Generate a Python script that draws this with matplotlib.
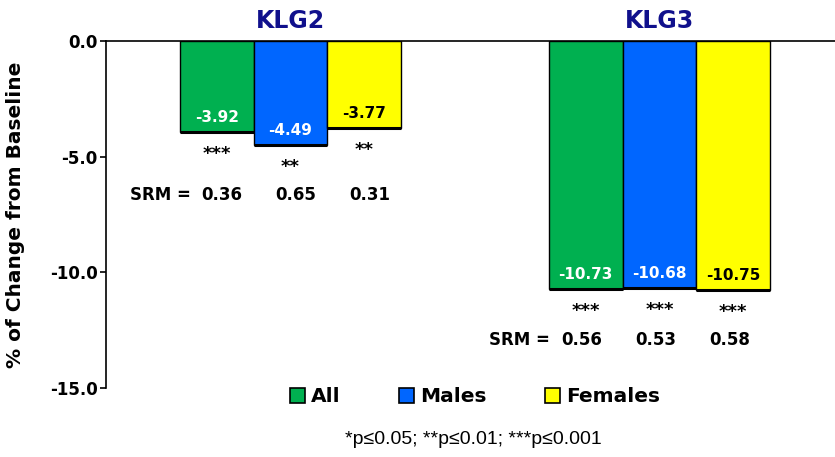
import matplotlib.pyplot as plt
from matplotlib.patches import Patch
import numpy as np

groups = ["KLG2", "KLG3"]
series = ["All", "Males", "Females"]
values = [[-3.92, -4.49, -3.77],      # KLG2
          [-10.73, -10.68, -10.75]]   # KLG3
stars = [["***", "**", "**"],
         ["***", "***", "***"]]
srm = [["0.36", "0.65", "0.31"],
       ["0.56", "0.53", "0.58"]]
colors = ["#00B050", "#0066FF", "#FFFF00"]
label_colors = ["white", "white", "black"]

fig = plt.figure(figsize=(8.35, 4.57), dpi=100)
ax = fig.add_axes([106/835, 1-388/457, 738/835, 347/457])

width = 0.2
x = np.arange(len(groups))
for i, s in enumerate(series):
    vals = [v[i] for v in values]
    pos = x + (i - 1) * width
    ax.bar(pos, vals, width, color=colors[i], edgecolor="black", linewidth=1.0, label=s, zorder=2)
    # darker bottom edge
    for p, v in zip(pos, vals):
        ax.plot([p - width/2, p + width/2], [v, v], color="black", lw=2.2, zorder=3,
                solid_capstyle="butt")
        ax.annotate("%.2f" % v, (p, v), xytext=(0, 10.5), textcoords="offset points",
                    ha="center", va="center", color=label_colors[i], fontsize=11,
                    fontweight="bold", zorder=4)
    for g, (p, v) in enumerate(zip(pos, vals)):
        ax.annotate(stars[g][i], (p, v), xytext=(0, -16), textcoords="offset points",
                    ha="center", va="center", fontsize=13, fontweight="bold")

# SRM rows
srm_y = [-6.66, -12.93]
srm_dx = [0.015, -0.01]
srm_lab_x = [-0.271, -0.296]
for g in range(len(groups)):
    ax.text(x[g] + srm_lab_x[g], srm_y[g], "SRM =", ha="right", va="center",
            fontsize=12, fontweight="bold")
    for i in range(len(series)):
        ax.text(x[g] + (i - 1) * width + srm_dx[g], srm_y[g], srm[g][i], ha="center",
                va="center", fontsize=12, fontweight="bold")

# group titles
for g, name in enumerate(groups):
    ax.text(x[g], 0.88, name, ha="center", va="center", fontsize=17, fontweight="bold",
            color="#10108C", clip_on=False)

ax.set_xlim(-0.5, 1.5)
ax.set_ylim(-15, 0)
ax.set_yticks([0, -5, -10, -15])
ax.set_yticklabels(["0.0", "-5.0", "-10.0", "-15.0"], fontweight="bold", fontsize=12)
ax.set_xticks([])
ax.spines["bottom"].set_visible(False)
ax.spines["right"].set_visible(False)
ax.spines["top"].set_linewidth(1.2)
ax.spines["left"].set_linewidth(1.2)
ax.tick_params(axis="y", direction="out", length=4, width=1.2, pad=2)
ax.set_ylabel("% of Change from Baseline", fontsize=14.5, fontweight="bold")
ax.yaxis.set_label_coords(-0.11, 0.5)

handles = [Patch(facecolor=c, edgecolor="black", linewidth=1.2) for c in colors]
fig.legend(handles, series, loc="center", bbox_to_anchor=(475/835, 1-397/457), ncol=3,
           frameon=False, handlelength=0.75, handleheight=0.75, handletextpad=0.3,
           columnspacing=2.9, prop={"weight": "bold", "size": 14.5})

fig.text(473/835, 1-440/457, "*p\u22640.05; **p\u22640.01; ***p\u22640.001", ha="center",
         va="center", fontsize=14, family="Liberation Sans")

fig.savefig("out.png", dpi=100)
